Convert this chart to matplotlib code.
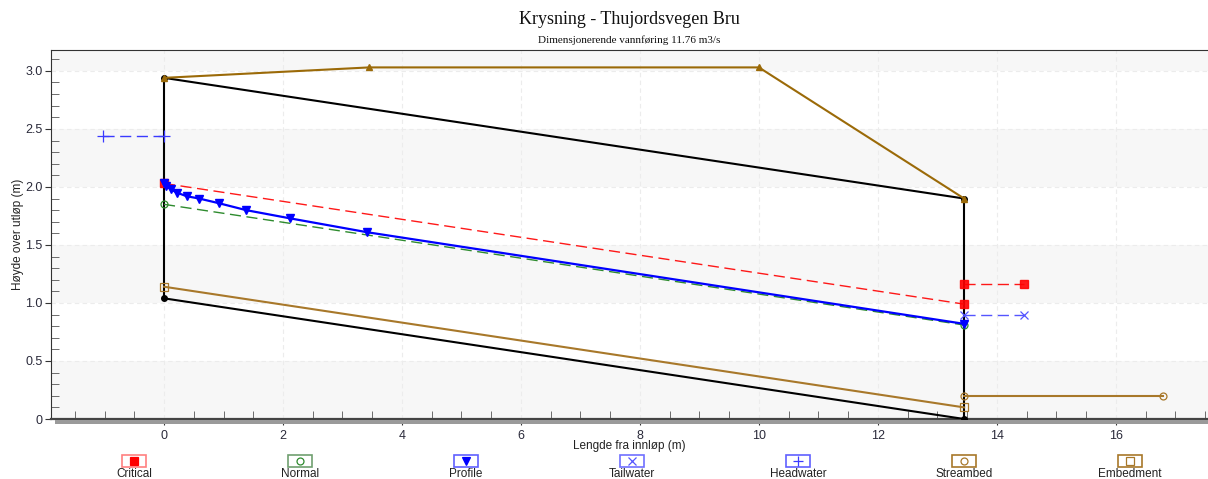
import matplotlib
matplotlib.use('Agg')
import matplotlib.pyplot as plt
from matplotlib.patches import Rectangle
from matplotlib.ticker import MultipleLocator, FuncFormatter

plt.rcParams['font.family'] = ['Liberation Sans', 'DejaVu Sans']

# ---------------- data ----------------
culvert_x = [0.0, 13.45]
culvert_top = [2.94, 1.90]
culvert_invert = [1.04, 0.0]

road_x = [0.0, 3.45, 10.0, 13.45]
road_y = [2.94, 3.03, 3.03, 1.90]

critical_x = [0.0, 13.45]
critical_y = [2.03, 0.99]
critical_tw_x = [13.45, 14.45]
critical_tw_y = [1.16, 1.16]

normal_x = [0.0, 13.45]
normal_y = [1.85, 0.81]

profile_x = [0.0, 0.04, 0.11, 0.22, 0.38, 0.59, 0.92, 1.38, 2.11, 3.41, 13.45]
profile_y = [2.03, 2.01, 1.98, 1.95, 1.92, 1.90, 1.86, 1.80, 1.73, 1.61, 0.82]

tailwater_x = [13.45, 14.45]
tailwater_y = [0.90, 0.90]

headwater_x = [-1.03, 0.0]
headwater_y = [2.44, 2.44]

streambed_x = [13.45, 16.8]
streambed_y = [0.20, 0.20]

embedment_x = [0.0, 13.45]
embedment_y = [1.14, 0.10]

legend_names = ['Critical', 'Normal', 'Profile', 'Tailwater', 'Headwater', 'Streambed', 'Embedment']

title = 'Krysning - Thujordsvegen Bru'
subtitle = 'Dimensjonerende vannføring 11.76 m3/s'
xlabel = 'Lengde fra innløp (m)'
ylabel = 'Høyde over utløp (m)'

# ---------------- styles ----------------
RED = '#ff0000'
GREEN = '#2e8b2e'
BLUE = '#0000ff'
TWBLUE = '#5555ff'
HWBLUE = '#3a3aff'
BROWN = '#9b6a08'
BROWN2 = '#a8782a'

W, H = 1208, 479
fig = plt.figure(figsize=(W / 100, H / 100), dpi=100)
ax = fig.add_axes([51 / W, 1 - 419 / H, (1208 - 51) / W, (419 - 50) / H])

xmin, xmax = -1.90, 17.55
ymin, ymax = 0.0, 3.18
ax.set_xlim(xmin, xmax)
ax.set_ylim(ymin, ymax)

# background bands
for lo in [0.0, 1.0, 2.0, 3.0]:
    ax.axhspan(lo, min(lo + 0.5, ymax), color='#f7f7f7', zorder=0, lw=0)

ax.xaxis.set_major_locator(MultipleLocator(2))
ax.xaxis.set_minor_locator(MultipleLocator(0.5))
ax.yaxis.set_major_locator(MultipleLocator(0.5))
ax.yaxis.set_minor_locator(MultipleLocator(0.1))
ax.yaxis.set_major_formatter(FuncFormatter(lambda v, p: '0' if abs(v) < 1e-9 else f'{v:.1f}'))
ax.xaxis.set_major_formatter(FuncFormatter(lambda v, p: f'{v:.0f}'))
ax.grid(True, which='major', color='#ececec', linestyle=(0, (4, 3)), linewidth=0.8, zorder=0.5)
ax.set_axisbelow(True)

ax.tick_params(axis='both', which='major', labelsize=9, labelcolor='#2a2a3a', color='#333333')
ax.tick_params(axis='x', which='major', direction='out', length=4, pad=4)
ax.tick_params(axis='x', which='minor', direction='in', length=6, color='#555555')
ax.tick_params(axis='y', which='major', direction='out', length=4, pad=2)
ax.tick_params(axis='y', which='minor', direction='in', length=6, color='#555555')

ax.spines['right'].set_visible(False)
ax.spines['top'].set_color('#333333')
ax.spines['left'].set_color('#333333')
ax.spines['bottom'].set_color('#444444')
ax.spines['bottom'].set_linewidth(1.6)

# bottom shadow
fig.add_artist(Rectangle(((55) / W, 1 - 424 / H), (1208 - 55) / W, 4 / H,
                         transform=fig.transFigure, facecolor='#9a9a9a', edgecolor='none', zorder=1))

# culvert
ax.plot(culvert_x, culvert_top, color='black', lw=1.5, zorder=3)
ax.plot(culvert_x, culvert_invert, color='black', lw=1.5, zorder=3)
ax.plot([culvert_x[0], culvert_x[0]], [culvert_invert[0], culvert_top[0]], color='black', lw=1.5, zorder=3)
ax.plot([culvert_x[1], culvert_x[1]], [culvert_invert[1], culvert_top[1]], color='black', lw=1.5, zorder=3)
ax.plot(culvert_x + culvert_x, culvert_invert + culvert_top, 'o', color='black', ms=4, zorder=3)

# road
ax.plot(road_x, road_y, color=BROWN, lw=1.5, marker='^', ms=5, zorder=4)

# embedment
ax.plot(embedment_x, embedment_y, color=BROWN2, lw=1.5, marker='s', ms=6, mfc='none', mew=0.9, zorder=4)
# streambed
ax.plot(streambed_x, streambed_y, color=BROWN2, lw=1.5, marker='o', ms=5, mfc='none', mew=0.9, zorder=4)

# normal
ax.plot(normal_x, normal_y, color=GREEN, lw=1, ls=(0, (8, 4)), marker='o', ms=5, mfc='none', mew=0.9, zorder=5)
# critical
ax.plot(critical_x, critical_y, color=RED, lw=1, ls=(0, (8, 4)), marker='s', ms=6, zorder=5, alpha=0.9)
ax.plot(critical_tw_x, critical_tw_y, color=RED, lw=1, ls=(0, (8, 4)), marker='s', ms=6, zorder=5, alpha=0.9)
# profile
ax.plot(profile_x, profile_y, color=BLUE, lw=1.6, marker='v', ms=6, zorder=6)
# tailwater
ax.plot(tailwater_x, tailwater_y, color=TWBLUE, lw=1, ls=(0, (8, 4)), marker='x', ms=6, mew=0.9, zorder=5)
# headwater
ax.plot(headwater_x, headwater_y, color=HWBLUE, lw=1, ls=(0, (8, 4)), marker='+', ms=8, mew=0.9, zorder=5)

# titles
cx_axes = (51 + 1208) / 2 / W
fig.text(cx_axes, 1 - 20 / H, title, ha='center', va='center', fontsize=13,
         family=['Liberation Serif', 'DejaVu Serif'], color='#111111')
fig.text(cx_axes, 1 - 40 / H, subtitle, ha='center', va='center', fontsize=8,
         family=['Liberation Serif', 'DejaVu Serif'], color='#111111')
fig.text(cx_axes, 1 - 446 / H, xlabel, ha='center', va='center', fontsize=8.5, color='#222222')
fig.text(18 / W, 1 - 234 / H, ylabel, ha='center', va='center', rotation=90, fontsize=8.5, color='#222222')

# custom legend
lax = fig.add_axes([0, 0, 1, 1], facecolor='none')
lax.set_xlim(0, W)
lax.set_ylim(H, 0)
lax.axis('off')
leg_styles = [
    dict(edge='#ff8080', color=RED, marker='s', mfc=RED, ms=6),
    dict(edge='#70a070', color=GREEN, marker='o', mfc='none', ms=5),
    dict(edge='#6060ff', color=BLUE, marker='v', mfc=BLUE, ms=6),
    dict(edge='#7070ff', color=TWBLUE, marker='x', mfc='none', ms=6),
    dict(edge='#6060ff', color=HWBLUE, marker='+', mfc='none', ms=7),
    dict(edge=BROWN2, color=BROWN2, marker='o', mfc='none', ms=5),
    dict(edge=BROWN2, color=BROWN2, marker='s', mfc='none', ms=6),
]
for i, (name, st) in enumerate(zip(legend_names, leg_styles)):
    cx = 134 + 166 * i
    lax.add_patch(Rectangle((cx - 12, 455), 24, 12, facecolor='white', edgecolor=st['edge'], lw=1.2))
    lax.plot([cx], [461], marker=st['marker'], color=st['color'], mfc=st['mfc'], ms=st['ms'], mew=0.9, ls='none')
    lax.text(cx, 474, name, ha='center', va='center', fontsize=8.5, color='#222222')

fig.savefig('out.png', dpi=100)
